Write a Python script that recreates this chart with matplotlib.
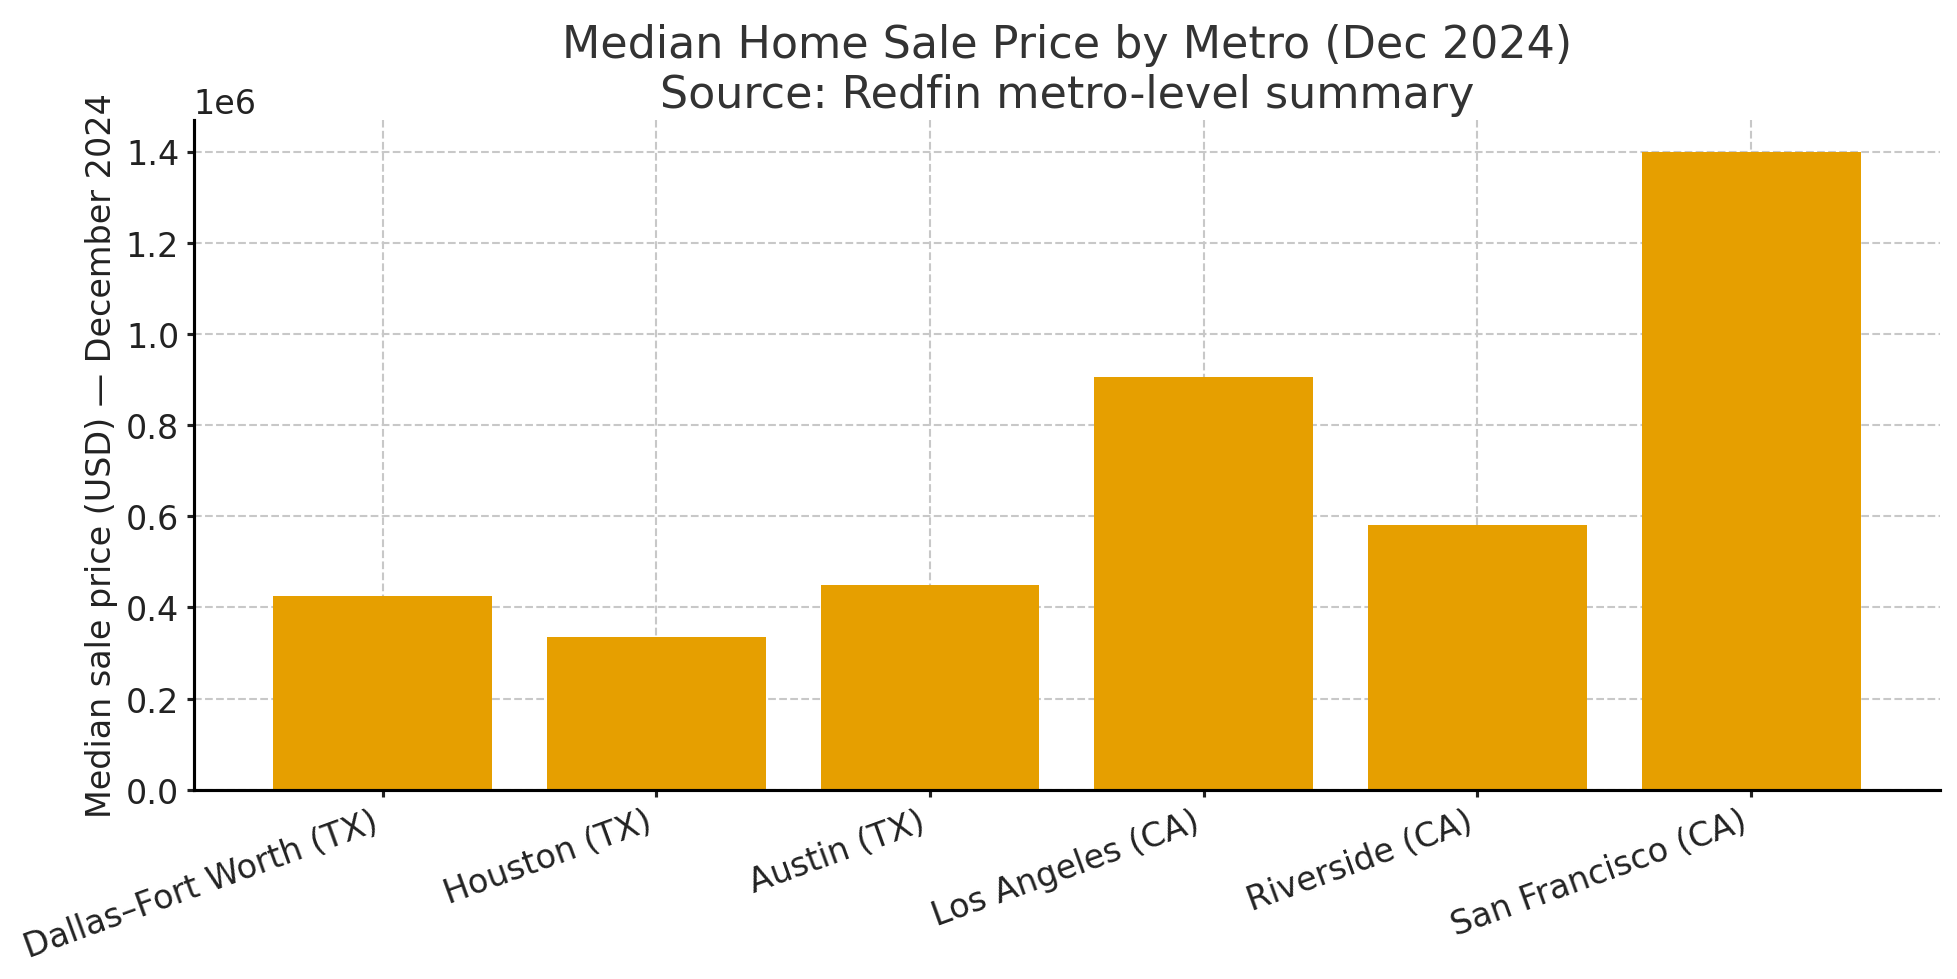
import matplotlib.pyplot as plt

# Data
metros = ['Dallas–Fort Worth (TX)', 'Houston (TX)', 'Austin (TX)',
          'Los Angeles (CA)', 'Riverside (CA)', 'San Francisco (CA)']
median_price = [425000, 335000, 449000, 905000, 580000, 1400000]

plt.rcParams['font.family'] = ['DejaVu Sans']

fig, ax = plt.subplots(figsize=(13.05, 6.533), dpi=150)
fig.subplots_adjust(left=0.099, right=0.991, bottom=0.193, top=0.877)

ax.bar(metros, median_price, width=0.8, color='#E69F00', zorder=2)

ax.set_title('Median Home Sale Price by Metro (Dec 2024)\nSource: Redfin metro-level summary',
             fontsize=21.3, color='#333333')
ax.set_ylabel('Median sale price (USD) — December 2024', fontsize=16, color='#222222')

ax.grid(True, linestyle='--', color='#c8c8c8', linewidth=1, zorder=0)
ax.spines['top'].set_visible(False)
ax.spines['right'].set_visible(False)
ax.spines['left'].set_linewidth(1.5)
ax.spines['bottom'].set_linewidth(1.5)
ax.tick_params(labelsize=16, width=1.5, colors='#222222')
ax.yaxis.get_offset_text().set_fontsize(16)

plt.setp(ax.get_xticklabels(), rotation=20, ha='right')

fig.savefig('out.png')
